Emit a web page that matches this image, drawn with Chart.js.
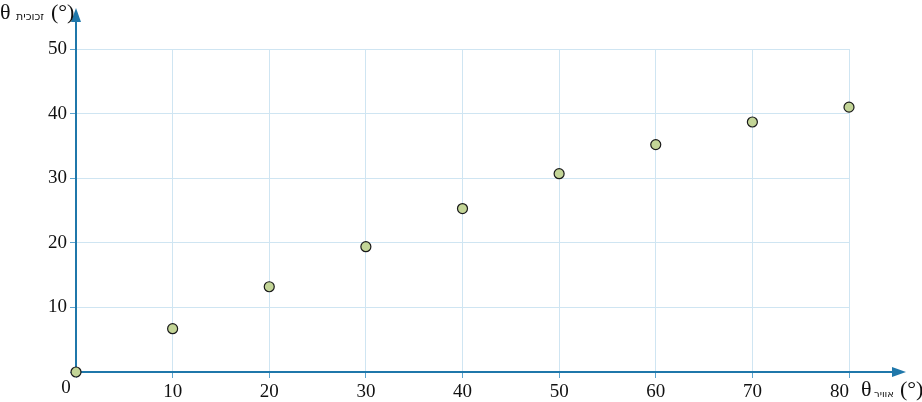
<!DOCTYPE html>
<html>
<head>
<meta charset="utf-8">
<script src="https://cdn.jsdelivr.net/npm/chart.js@4/dist/chart.umd.min.js"></script>
<style>
    body { margin: 0; background: #fff; }
    #wrap { width: 922px; height: 402px; }
</style>
</head>
<body>
<div id="wrap"><canvas id="chart"></canvas></div>
<script>
// angle in air (deg) vs angle in glass (deg)
const airAngles = [0, 10, 20, 30, 40, 50, 60, 70, 80];
const glassAngles = [0, 6.7, 13.2, 19.4, 25.3, 30.7, 35.2, 38.7, 41.0];
const xTicks = [0, 10, 20, 30, 40, 50, 60, 70, 80];
const yTicks = [0, 10, 20, 30, 40, 50];

const axisColor = '#1f77aa';
const gridColor = '#cfe5f2';
const tickColor = '#5fa5cf';
const tickFont = { family: '"Liberation Serif", "Times New Roman", serif', size: 19 };

const points = airAngles.map((x, i) => ({ x, y: glassAngles[i] }));

// axes with arrow heads (under the points)
const axisPlugin = {
    id: 'axisArrows',
    beforeDatasetsDraw(chart) {
        const { ctx } = chart;
        const x0 = chart.scales.x.getPixelForValue(0);
        const y0 = chart.scales.y.getPixelForValue(0);
        ctx.save();
        ctx.strokeStyle = axisColor;
        ctx.fillStyle = axisColor;
        ctx.lineWidth = 2;
        ctx.beginPath();
        ctx.moveTo(x0, y0);
        ctx.lineTo(900, y0);
        ctx.moveTo(x0, y0);
        ctx.lineTo(x0, 16);
        ctx.stroke();
        ctx.beginPath();
        ctx.moveTo(906, y0);
        ctx.lineTo(892, y0 - 5);
        ctx.lineTo(892, y0 + 5);
        ctx.closePath();
        ctx.fill();
        ctx.beginPath();
        ctx.moveTo(x0, 8);
        ctx.lineTo(x0 - 5, 22);
        ctx.lineTo(x0 + 5, 22);
        ctx.closePath();
        ctx.fill();
        ctx.restore();
    },
    afterDraw(chart) {
        const { ctx } = chart;
        ctx.save();
        ctx.fillStyle = '#111';
        ctx.textBaseline = 'alphabetic';
        // origin label
        ctx.font = '19px "Liberation Serif", serif';
        ctx.textAlign = 'center';
        ctx.fillText('0', 66, 393);
        // y title
        ctx.textAlign = 'left';
        ctx.font = '22px "Liberation Serif", serif';
        ctx.fillText('θ', 0, 19);
        ctx.fillText('(°)', 51, 19);
        ctx.font = '11px "DejaVu Sans", sans-serif';
        ctx.fillText('זכוכית', 16, 20);
        // x title
        ctx.font = '22px "Liberation Serif", serif';
        ctx.fillText('θ', 861, 396);
        ctx.fillText('(°)', 900, 396);
        ctx.font = '10px "DejaVu Sans", sans-serif';
        ctx.fillText('אוויר', 874, 397);
        ctx.restore();
    }
};

new Chart(document.getElementById('chart'), {
    type: 'scatter',
    data: {
        datasets: [{
            data: points,
            backgroundColor: '#c3d597',
            borderColor: '#1a1a1a',
            borderWidth: 1.2,
            pointRadius: 5,
            pointHoverRadius: 5,
            clip: false
        }]
    },
    options: {
        responsive: true,
        maintainAspectRatio: false,
        animation: false,
        layout: { padding: { top: 49, right: 73, left: 0, bottom: 0 } },
        plugins: { legend: { display: false }, tooltip: { enabled: false } },
        scales: {
            x: {
                type: 'linear',
                min: 0,
                max: 80,
                afterBuildTicks: (s) => { s.ticks = xTicks.map(v => ({ value: v })); },
                afterFit: (s) => { s.height = 30; },
                border: { display: false },
                grid: { color: gridColor, tickColor: tickColor, tickLength: 6, lineWidth: 1 },
                ticks: {
                    color: '#111',
                    font: tickFont,
                    padding: 3,
                    maxRotation: 0,
                    // last label sits a little left, clear of the axis title
                    callback: (v) => v === 0 ? '' : (v === 80 ? '80\u2002\u2002' : v)
                }
            },
            y: {
                type: 'linear',
                min: 0,
                max: 50,
                afterBuildTicks: (s) => { s.ticks = yTicks.map(v => ({ value: v })); },
                afterFit: (s) => { s.width = 76; },
                border: { display: false },
                grid: { color: gridColor, tickColor: tickColor, tickLength: 6, lineWidth: 1 },
                ticks: {
                    color: '#111',
                    font: tickFont,
                    padding: 3,
                    callback: (v) => v === 0 ? '' : v
                }
            }
        }
    },
    plugins: [axisPlugin]
});
</script>
</body>
</html>
